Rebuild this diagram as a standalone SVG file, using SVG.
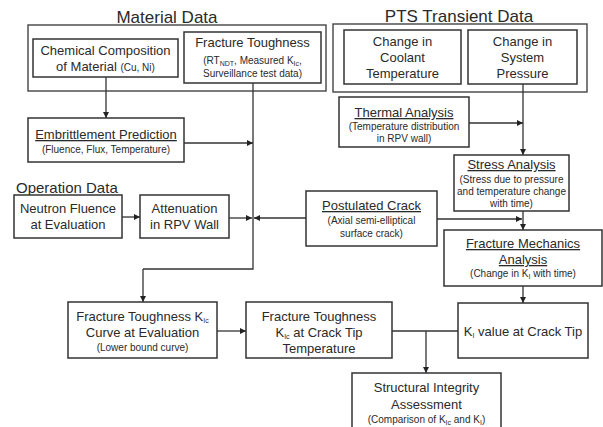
<svg xmlns="http://www.w3.org/2000/svg" width="603" height="427" viewBox="0 0 603 427">
<defs>
<style>
text{font-family:"Liberation Sans",Arial,sans-serif;fill:#2a2a2a;text-anchor:middle}
.t{font-size:17px}
.m{font-size:13px}
.s{font-size:10px}
.sub{font-size:7px}
.u{text-decoration:underline}
.box{fill:#fff;stroke:#333;stroke-width:1.5}
.grp{fill:none;stroke:#444;stroke-width:1.4}
.ln{fill:none;stroke:#333;stroke-width:1.3}
.ar{fill:none;stroke:#333;stroke-width:1.3;marker-end:url(#ah)}
</style>
<marker id="ah" viewBox="0 0 8 8" refX="8" refY="4" markerWidth="6" markerHeight="6" markerUnits="userSpaceOnUse" orient="auto">
<path d="M0,0 L8,4 L0,8 z" fill="#222"/>
</marker>
</defs>
<rect width="603" height="427" fill="#fff"/>

<g id="groups">
<text class="t" x="167" y="23">Material Data</text>
<rect class="grp" x="28" y="25" width="298" height="66"/>
<text class="t" x="459" y="22">PTS Transient Data</text>
<rect class="grp" x="333" y="24" width="254" height="68"/>
<text x="16" y="193" style="text-anchor:start;font-size:15px">Operation Data</text>
</g>

<g id="connectors">
<path class="ar" d="M106,77 V118"/>
<path class="ln" d="M253,83 V269 H143"/>
<path class="ar" d="M143,269 V302"/>
<path class="ar" d="M184,143 H253"/>
<path class="ar" d="M122,217 H140"/>
<path class="ar" d="M229,218 H252"/>
<path class="ar" d="M306,218 H254"/>
<path class="ar" d="M523,84 V155"/>
<path class="ar" d="M469,123 H523"/>
<path class="ar" d="M437,219 H522"/>
<path class="ar" d="M523,211 V230"/>
<path class="ar" d="M523,286 V303"/>
<path class="ar" d="M217,331 H246"/>
<path class="ln" d="M392,331 H458"/>
<path class="ar" d="M426,331 V373"/>
</g>

<g id="chemical">
<rect class="box" x="33" y="39" width="145" height="38"/>
<text class="m" x="105.5" y="55">Chemical Composition</text>
<text x="105.5" y="71"><tspan class="m">of Material </tspan><tspan class="s">(Cu, Ni)</tspan></text>
</g>

<g id="fracture-toughness">
<rect class="box" x="184" y="32" width="137" height="51"/>
<text class="m" x="252.5" y="47">Fracture Toughness</text>
<text class="s" x="252.5" y="64">(RT<tspan class="sub" dy="2">NDT</tspan><tspan dy="-2">, Measured K</tspan><tspan class="sub" dy="2">Ic</tspan><tspan dy="-2">,</tspan></text>
<text class="s" x="252.5" y="77">Surveillance  test data)</text>
</g>

<g id="coolant">
<rect class="box" x="344" y="30" width="117" height="54"/>
<text class="m" x="402.5" y="46">Change in</text>
<text class="m" x="402.5" y="62">Coolant</text>
<text class="m" x="402.5" y="78">Temperature</text>
</g>

<g id="pressure">
<rect class="box" x="468" y="30" width="109" height="54"/>
<text class="m" x="522.5" y="46">Change in</text>
<text class="m" x="522.5" y="62">System</text>
<text class="m" x="522.5" y="78">Pressure</text>
</g>

<g id="embrittlement">
<rect class="box" x="28" y="118" width="156" height="44"/>
<text class="m u" x="106" y="139">Embrittlement Prediction</text>
<text class="s" x="106" y="153">(Fluence, Flux, Temperature)</text>
</g>

<g id="thermal">
<rect class="box" x="339" y="97" width="130" height="50"/>
<text class="m u" x="404" y="117">Thermal Analysis</text>
<text class="s" x="404" y="130">(Temperature distribution</text>
<text class="s" x="404" y="142">in RPV wall)</text>
</g>

<g id="stress">
<rect class="box" x="454" y="155" width="115" height="56"/>
<text class="m u" x="511.5" y="169">Stress Analysis</text>
<text class="s" x="511.5" y="183">(Stress due to pressure</text>
<text class="s" x="511.5" y="195">and temperature change</text>
<text class="s" x="511.5" y="207">with time)</text>
</g>

<g id="neutron">
<rect class="box" x="14" y="195" width="108" height="43"/>
<text class="m" x="68" y="213">Neutron Fluence</text>
<text class="m" x="68" y="229">at Evaluation</text>
</g>

<g id="attenuation">
<rect class="box" x="140" y="195" width="89" height="43"/>
<text class="m" x="184.5" y="213">Attenuation</text>
<text class="m" x="184.5" y="229">in RPV Wall</text>
</g>

<g id="postulated">
<rect class="box" x="306" y="191" width="131" height="55"/>
<text class="m u" x="371.5" y="210">Postulated Crack</text>
<text class="s" x="371.5" y="224">(Axial semi-elliptical</text>
<text class="s" x="371.5" y="237">surface crack)</text>
</g>

<g id="fracture-mechanics">
<rect class="box" x="444" y="230" width="158" height="56"/>
<text class="m u" x="523" y="248">Fracture Mechanics</text>
<text class="m u" x="523" y="264">Analysis</text>
<text class="s" x="523" y="277">(Change in K<tspan class="sub" dy="2">I</tspan><tspan dy="-2"> with time)</tspan></text>
</g>

<g id="kic-curve">
<rect class="box" x="68" y="302" width="149" height="56"/>
<text class="m" x="142.5" y="321">Fracture Toughness K<tspan class="sub" dy="2">Ic</tspan></text>
<text class="m" x="142.5" y="337">Curve at Evaluation</text>
<text class="s" x="142.5" y="351">(Lower bound  curve)</text>
</g>

<g id="kic-crack-tip">
<rect class="box" x="246" y="302" width="146" height="56"/>
<text class="m" x="319" y="321">Fracture Toughness</text>
<text class="m" x="319" y="337">K<tspan class="sub" dy="2">Ic</tspan><tspan dy="-2"> at Crack Tip</tspan></text>
<text class="m" x="319" y="353">Temperature</text>
</g>

<g id="ki-value">
<rect class="box" x="458" y="303" width="130" height="55"/>
<text class="m" x="523" y="336">K<tspan class="sub" dy="2">I</tspan><tspan dy="-2"> value at Crack Tip</tspan></text>
</g>

<g id="structural">
<rect class="box" x="352" y="373" width="149" height="60"/>
<text class="m" x="426.5" y="392">Structural  Integrity</text>
<text class="m" x="426.5" y="409">Assessment</text>
<text class="s" x="426.5" y="423">(Comparison of K<tspan class="sub" dy="2">Ic</tspan><tspan dy="-2"> and K</tspan><tspan class="sub" dy="2">I</tspan><tspan dy="-2">)</tspan></text>
</g>
</svg>
